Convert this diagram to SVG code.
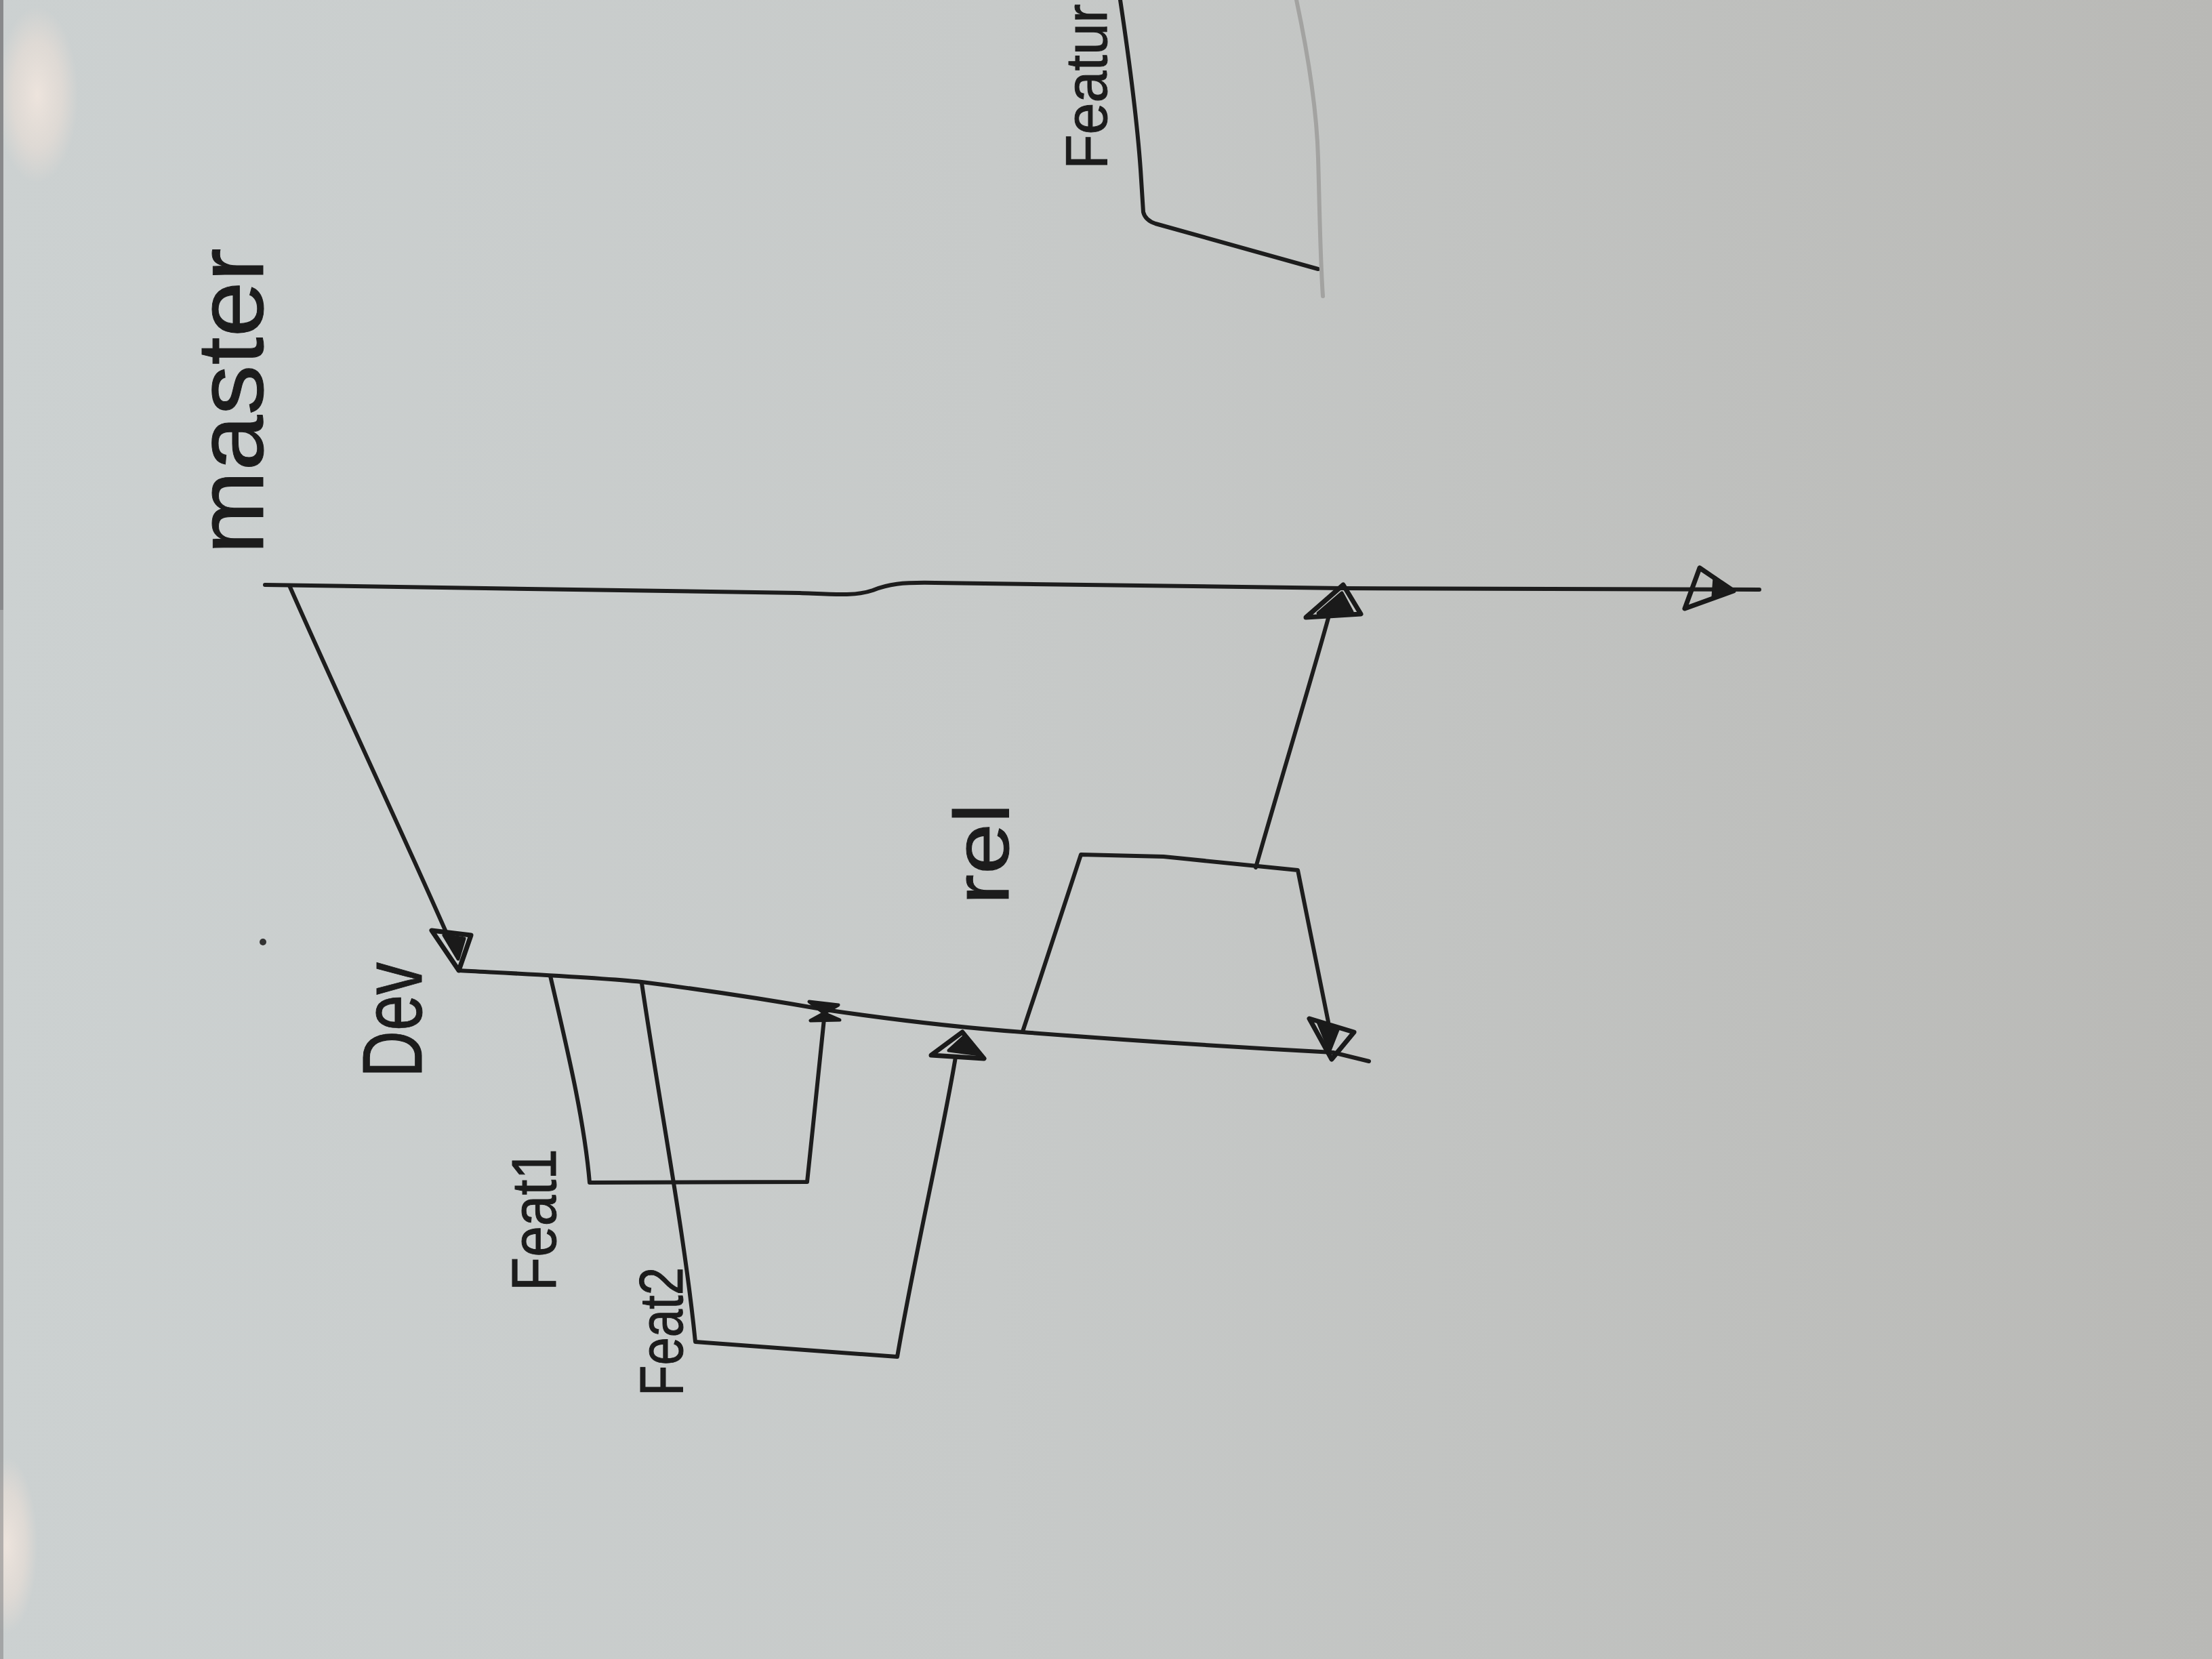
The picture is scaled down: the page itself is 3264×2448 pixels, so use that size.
<svg xmlns="http://www.w3.org/2000/svg" width="3264" height="2448" viewBox="0 0 3264 2448">
<defs>
<linearGradient id="bg" x1="0" y1="0" x2="1" y2="0">
<stop offset="0" stop-color="#ccd1d1"/>
<stop offset="0.45" stop-color="#c7cac9"/>
<stop offset="1" stop-color="#b9b9b6"/>
</linearGradient>
<radialGradient id="glare" cx="0.5" cy="0.5" r="0.5">
<stop offset="0" stop-color="#ede4dd" stop-opacity="1"/>
<stop offset="0.6" stop-color="#e6ddd6" stop-opacity="0.7"/>
<stop offset="1" stop-color="#e6ddd6" stop-opacity="0"/>
</radialGradient>
<style>
.ln{fill:none;stroke:#1d1d1d;stroke-width:6;stroke-linecap:round;stroke-linejoin:round}
.ah{fill:none;stroke:#1a1a1a;stroke-width:7;stroke-linejoin:round}
.af{fill:#1a1a1a;stroke:#1a1a1a;stroke-width:5;stroke-linejoin:round}
.lb{font-family:"Liberation Sans","DejaVu Sans",sans-serif;fill:#1c1c1c;stroke:#1c1c1c;stroke-width:1}
</style>
</defs>
<rect width="3264" height="2448" fill="url(#bg)"/>
<ellipse cx="55" cy="140" rx="60" ry="130" fill="url(#glare)"/>
<ellipse cx="10" cy="2280" rx="45" ry="130" fill="url(#glare)"/>
<rect x="0" y="0" width="5" height="2448" fill="#7a7a7c" opacity="0.5"/>
<rect x="0" y="0" width="5" height="900" fill="#6e6e70" opacity="0.5"/>

<g id="connectors">
<path class="ln" d="M391 863 L1180 875 C1230 877 1262 880 1288 871 C1310 862 1330 859 1380 860 L1980 868 L2596 870"/>
<path class="ln" d="M427 864 C500 1030 590 1220 662 1384"/>
<path class="ln" d="M677 1432 C750 1436 880 1442 947 1449 C1050 1462 1150 1478 1218 1490 C1300 1502 1400 1515 1509 1523 C1650 1534 1800 1544 1967 1553 L2020 1566"/>
<path class="ln" d="M812 1440 C835 1540 862 1650 870 1745 L1191 1744 C1200 1660 1210 1560 1217 1494"/>
<path class="ln" d="M947 1451 C975 1640 1010 1820 1026 1980 L1324 2002 C1350 1850 1390 1680 1410 1560"/>
<path class="ln" d="M1509 1522 C1540 1430 1575 1320 1595 1261 L1717 1264 L1915 1284 C1935 1380 1950 1460 1960 1508"/>
<path class="ln" d="M1853 1280 C1890 1150 1930 1020 1960 912"/>
<path class="ln" d="M1653 0 C1665 80 1678 180 1683 250 L1687 313 Q1690 325 1705 330 L1945 397"/>
<path fill="none" stroke="#a3a3a1" stroke-width="6" stroke-linecap="round" d="M1913 0 C1930 80 1943 160 1945 233 C1947 300 1948 380 1952 437"/>
</g>

<g id="arrow-dev">
<path class="ah" d="M637 1373 L695 1380 L677 1432 Z"/>
<path class="af" d="M655 1380 L685 1385 L676 1415 Z"/>
</g>
<g id="arrow-feat1">
<path class="af" d="M1194 1478 L1237 1483 L1216 1495 Z"/>
<path class="af" d="M1216 1495 L1196 1506 L1239 1505 Z"/>
</g>
<g id="arrow-feat2">
<path class="ah" d="M1374 1557 L1420 1523 L1452 1562 Z"/>
<path class="af" d="M1400 1550 L1422 1530 L1445 1556 Z"/>
</g>
<g id="arrow-rel-dev">
<path class="ah" d="M1932 1503 L1998 1523 L1965 1563 Z"/>
<path class="af" d="M1945 1508 L1975 1517 L1962 1550 Z"/>
</g>
<g id="arrow-rel-master">
<path class="ah" d="M1927 911 L1982 863 L2008 906 Z"/>
<path class="af" d="M1945 905 L1980 875 L1995 903 Z"/>
</g>
<g id="arrow-master-end">
<path class="ah" d="M2508 838 L2486 898 L2558 872 Z"/>
<path class="af" d="M2530 852 L2556 871 L2528 880 Z"/>
</g>

<g id="label-master"><text class="lb" transform="translate(388 818) rotate(-90)" font-size="140" textLength="452" lengthAdjust="spacingAndGlyphs">master</text></g>
<g id="label-dev"><text class="lb" transform="translate(622 1590) rotate(-90)" font-size="125" textLength="170" lengthAdjust="spacingAndGlyphs">Dev</text></g>
<g id="label-feat1"><text class="lb" transform="translate(820 1905) rotate(-90)" font-size="92" textLength="210" lengthAdjust="spacingAndGlyphs">Feat1</text></g>
<g id="label-feat2"><text class="lb" transform="translate(1007 2060) rotate(-90)" font-size="90" textLength="190" lengthAdjust="spacingAndGlyphs">Feat2</text></g>
<g id="label-rel"><text class="lb" transform="translate(1488 1335) rotate(-90)" font-size="115" textLength="150" lengthAdjust="spacingAndGlyphs">rel</text></g>
<g id="label-feature"><text class="lb" transform="translate(1633 250) rotate(-90)" font-size="88" textLength="244" lengthAdjust="spacingAndGlyphs">Featur</text></g>
<circle cx="388" cy="1390" r="5" fill="#333"/>
</svg>
